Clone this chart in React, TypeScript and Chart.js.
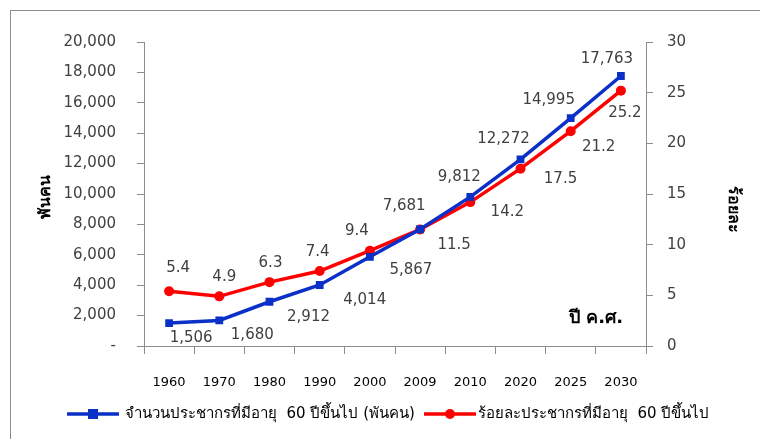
import React, { useEffect, useRef } from "react";
import { Chart, registerables } from "chart.js";

Chart.register(...registerables);

const categories = ["1960", "1970", "1980", "1990", "2000", "2009", "2010", "2020", "2025", "2030"];
const elderlyThousands = [1506, 1680, 2912, 4014, 5867, 7681, 9812, 12272, 14995, 17763];
const elderlyPercent = [5.4, 4.9, 6.3, 7.4, 9.4, 11.5, 14.2, 17.5, 21.2, 25.2];

const seriesNames = [
  "จำนวนประชากรที่มีอายุ  60 ปีขึ้นไป (พันคน)",
  "ร้อยละประชากรที่มีอายุ  60 ปีขึ้นไป",
];
const leftTitle = "พันคน";
const rightTitle = "ร้อยละ";
const xNote = "ปี ค.ศ.";

// label offsets (layout only): [dx, dy] from point to text centre
const blueLabelOffsets = [[22, 15], [33, 15], [39, 15], [45, 15], [41, 13], [-16, -23], [-11, -20], [-17, -20], [-22, -18], [-14, -17]];
const redLabelOffsets = [[9, -23], [5, -19], [1, -19], [-2, -19], [-13, -20], [34, 16], [37, 10], [40, 10], [28, 16], [4, 22]];

const BLUE = "#0a30c8";
const RED = "#ff0000";
const FONT = "Tahoma, 'DejaVu Sans', sans-serif";

const fmtThousands = (v: number) => v.toLocaleString("en-US");

const decorPlugin = {
  id: "decor",
  afterDatasetsDraw(chart: any) {
    const ctx = chart.ctx;
    ctx.save();
    ctx.font = `15px ${FONT}`;
    ctx.fillStyle = "#404040";
    ctx.textAlign = "center";
    ctx.textBaseline = "middle";
    const m0 = chart.getDatasetMeta(0);
    m0.data.forEach((p: any, i: number) => {
      const [dx, dy] = blueLabelOffsets[i];
      ctx.fillText(fmtThousands(elderlyThousands[i]), p.x + dx, p.y + dy);
    });
    const m1 = chart.getDatasetMeta(1);
    m1.data.forEach((p: any, i: number) => {
      const [dx, dy] = redLabelOffsets[i];
      ctx.fillText(elderlyPercent[i].toFixed(1), p.x + dx, p.y + dy);
    });
    ctx.restore();
  },
  afterDraw(chart: any) {
    const ctx = chart.ctx;
    ctx.save();
    // outer frame
    ctx.strokeStyle = "#8c8c8c";
    ctx.lineWidth = 1;
    ctx.strokeRect(10.5, 10.5, 900, 600);

    // axis titles
    ctx.fillStyle = "#000";
    ctx.font = `bold 16px ${FONT}`;
    ctx.textAlign = "center";
    ctx.textBaseline = "middle";
    ctx.save();
    ctx.translate(46, 197);
    ctx.rotate(-Math.PI / 2);
    ctx.fillText(leftTitle, 0, 0);
    ctx.restore();
    ctx.save();
    ctx.translate(733, 209);
    ctx.rotate(Math.PI / 2);
    ctx.fillText(rightTitle, 0, 0);
    ctx.restore();

    ctx.font = `bold 18px ${FONT}`;
    ctx.fillText(xNote, 596, 318);

    // legend
    const ly = 414;
    ctx.lineWidth = 3.5;
    ctx.strokeStyle = BLUE;
    ctx.beginPath();
    ctx.moveTo(67, ly);
    ctx.lineTo(119, ly);
    ctx.stroke();
    ctx.fillStyle = BLUE;
    ctx.fillRect(93 - 5, ly - 5, 10, 10);
    ctx.strokeStyle = RED;
    ctx.beginPath();
    ctx.moveTo(424, ly);
    ctx.lineTo(476, ly);
    ctx.stroke();
    ctx.fillStyle = RED;
    ctx.beginPath();
    ctx.arc(450, ly, 5, 0, Math.PI * 2);
    ctx.fill();

    ctx.fillStyle = "#000";
    ctx.font = `15px ${FONT}`;
    ctx.textAlign = "left";
    ctx.fillText(seriesNames[0], 125, ly);
    ctx.fillText(seriesNames[1], 478, ly);
    ctx.restore();
  },
};

export default function App() {
  const ref = useRef<HTMLCanvasElement | null>(null);
  useEffect(() => {
    document.body.style.margin = "0";
    const canvas = ref.current!;
    const chart = new Chart(canvas, {
      type: "line",
      data: {
        labels: categories,
        datasets: [
          {
            label: seriesNames[0],
            data: elderlyThousands,
            yAxisID: "y",
            borderColor: BLUE,
            backgroundColor: BLUE,
            borderWidth: 3.5,
            pointStyle: "rect",
            pointRadius: 5.5,
            pointBorderWidth: 0,
            tension: 0,
          },
          {
            label: seriesNames[1],
            data: elderlyPercent,
            yAxisID: "y1",
            borderColor: RED,
            backgroundColor: RED,
            borderWidth: 3.5,
            pointStyle: "circle",
            pointRadius: 5,
            pointBorderWidth: 0,
            tension: 0,
          },
        ],
      },
      options: {
        responsive: false,
        animation: false,
        layout: { padding: { left: 0, right: 0, top: 42, bottom: 0 } },
        plugins: {
          legend: { display: false },
          tooltip: { enabled: false },
        },
        scales: {
          x: {
            offset: true,
            grid: { display: true, drawOnChartArea: false, offset: true, tickLength: 8, color: "#8c8c8c" },
            border: { color: "#8c8c8c" },
            ticks: { color: "#000", font: { family: FONT, size: 13 }, padding: 21, maxRotation: 0, autoSkip: false },
            afterFit: (s: any) => { s.height = 93; },
          },
          y: {
            position: "left",
            min: 0,
            max: 20000,
            grid: { display: true, drawOnChartArea: false, tickLength: 7, color: "#8c8c8c" },
            border: { color: "#8c8c8c" },
            ticks: {
              stepSize: 2000,
              color: "#404040",
              font: { family: FONT, size: 15 },
              padding: 21,
              callback: (v: any) => (v === 0 ? "-" : fmtThousands(Number(v))),
            },
            afterFit: (s: any) => { s.width = 144; },
          },
          y1: {
            position: "right",
            min: 0,
            max: 30,
            grid: { display: true, drawOnChartArea: false, tickLength: 7, color: "#8c8c8c" },
            border: { color: "#8c8c8c" },
            ticks: { stepSize: 5, color: "#404040", font: { family: FONT, size: 15 }, padding: 14 },
            afterFit: (s: any) => { s.width = 114; },
          },
        },
      },
      plugins: [decorPlugin],
    });
    return () => chart.destroy();
  }, []);
  return <canvas ref={ref} width={760} height={439} style={{ display: "block", width: 760, height: 439 }} />;
}
